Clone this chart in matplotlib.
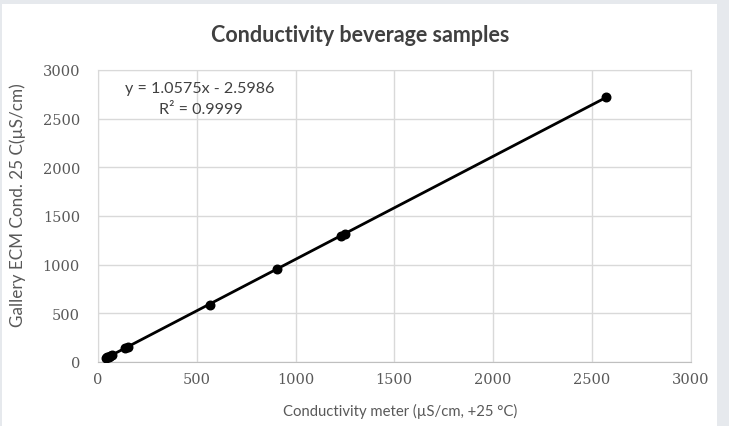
import matplotlib
matplotlib.use("Agg")
import matplotlib.pyplot as plt
import numpy as np
from matplotlib.patches import Rectangle

# readings (x: conductivity meter, y: Gallery ECM)
meter = [40, 48, 55, 62, 70, 138, 150, 565, 905, 1230, 1250, 2573]
gallery = [40, 49, 56, 63, 72, 143, 157, 585, 955, 1297, 1318, 2722]

slope = 1.0575
intercept = -2.5986
r2 = 0.9999

x_ticks = [0, 500, 1000, 1500, 2000, 2500, 3000]
y_ticks = [0, 500, 1000, 1500, 2000, 2500, 3000]

fig = plt.figure(figsize=(7.29, 4.27), dpi=100)
fig.patch.set_facecolor("#e6e9ed")
panel = Rectangle((2/729, 0), 715/729, 1 - 5/427, transform=fig.transFigure,
                  facecolor="white", edgecolor="none", zorder=-5)
fig.add_artist(panel)

ax = fig.add_axes([98/729, 1 - 363/427, 592.5/729, 292/427])
ax.set_facecolor("white")
ax.set_xlim(0, 3000)
ax.set_ylim(0, 3000)
ax.set_xticks(x_ticks)
ax.set_yticks(y_ticks)
ax.grid(True, color="#d9d9d9", linewidth=1)
ax.set_axisbelow(True)
for s in ax.spines.values():
    s.set_color("#d9d9d9")
ax.spines["bottom"].set_color("#bfbfbf")
ax.tick_params(length=0, labelsize=10.5, labelcolor="#595959")
ax.tick_params(axis="y", pad=13)
ax.tick_params(axis="x", pad=7)
for lab in ax.get_xticklabels() + ax.get_yticklabels():
    lab.set_family("DejaVu Serif")

# trendline
xs = np.array([min(meter), max(meter)])
ax.plot(xs, slope * xs + intercept, color="black", linewidth=2, zorder=3)
ax.scatter(meter, gallery, s=38, color="black", zorder=4)

ax.text(0.171, 0.938, "y = 1.0575x - 2.5986", transform=ax.transAxes, ha="center", va="center",
        fontsize=11.6, color="#404040", family="Lato")
ax.text(0.174, 0.866, "R² = 0.9999", transform=ax.transAxes, ha="center", va="center",
        fontsize=11.6, color="#404040", family="Lato")

fig.text(360/729, 1 - 36/427, "Conductivity beverage samples", ha="center", va="center",
         fontsize=15.5, fontweight="bold", color="#404040", family="Lato")
fig.text(400/729, 1 - 411/427, "Conductivity meter (µS/cm, +25 °C)", ha="center", va="center",
         fontsize=10.7, color="#595959", family="Lato")
fig.text(18/729, 1 - 205/427, "Gallery ECM Cond. 25 C(µS/cm)", ha="center", va="center",
         rotation=90, fontsize=12.3, color="#595959", family="Lato")

fig.savefig("out.png", dpi=100, facecolor=fig.get_facecolor())
